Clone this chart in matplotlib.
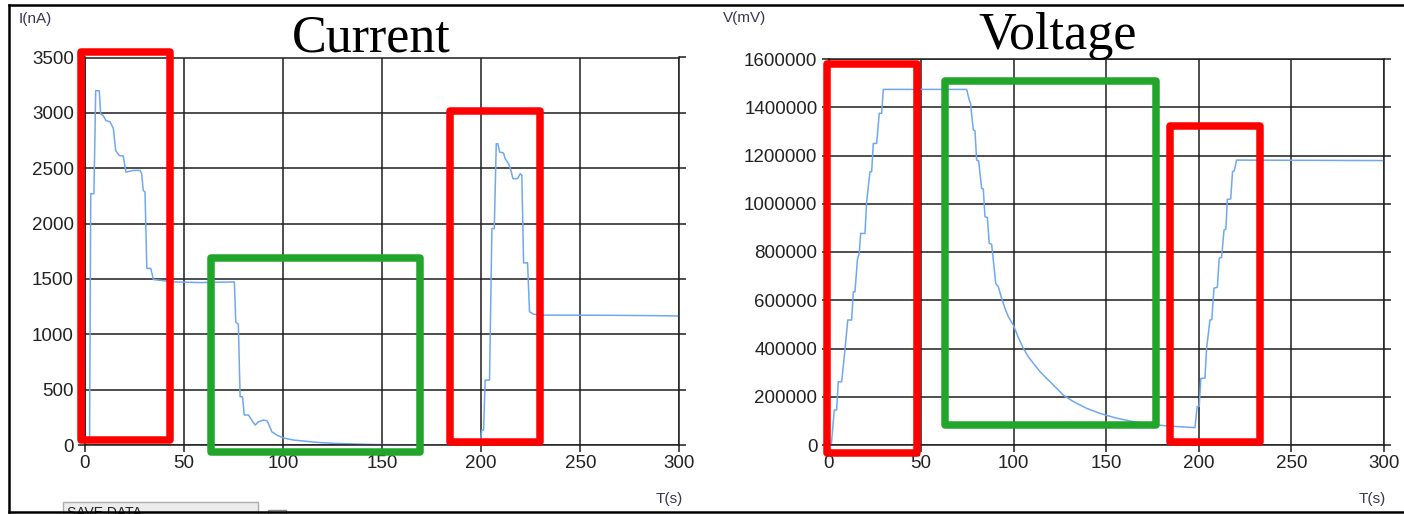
import matplotlib
matplotlib.use("Agg")
import matplotlib.pyplot as plt
from matplotlib.patches import Rectangle
from matplotlib.lines import Line2D

# ---------------- data ----------------
cur_t = [2.3, 2.9, 4.5, 5.4, 7.2, 7.9, 9.2, 10.6, 12.6, 14.3, 15.5, 17.2, 19.3, 20.7, 24.4, 27.8, 28.6, 29.4, 30.3, 31.2,
         33.2, 34.5, 44.4, 58.0, 75.4,
         76.1, 77.4, 78.3, 79.5, 80.4, 82.5, 84.2, 85.9, 87.6, 90.1, 91.8, 92.6, 94.3, 96.8, 99.3, 101.8, 105.2, 108.6,
         117.0, 125.4, 142.2, 150.6, 170.0, 199.3,
         200.3, 201.2, 202.0, 204.2, 205.4, 206.6, 207.6, 208.4, 209.3, 211.3, 212.1, 213.8, 215.0, 216.0, 218.4, 219.7,
         220.5, 221.4, 223.4, 224.4, 226.4, 229.8, 260, 290, 300]
cur_i = [0, 2270, 2270, 3200, 3200, 2990, 2975, 2930, 2920, 2860, 2660, 2615, 2610, 2465, 2480, 2480, 2450, 2300, 2285, 1595,
         1595, 1495, 1473, 1467, 1473,
         1112, 1091, 436, 436, 271, 271, 225, 180, 210, 225, 219, 195, 120, 90, 69, 57, 45, 39,
         24, 15, 6, 3, 1, 1,
         135, 135, 586, 586, 1955, 1955, 2721, 2721, 2646, 2637, 2586, 2541, 2481, 2406, 2406, 2451,
         2436, 1645, 1645, 1203, 1182, 1173, 1172, 1168, 1165]

vol_t = [1.5, 3.1, 4.4, 5.3, 7.1, 8.9, 10.4, 12.5, 13.4, 14.3, 15.6, 16.6, 17.4, 19.7, 20.6, 22.4, 23.3, 24.2, 26.0, 27.4,
         28.7, 29.6, 74.6,
         76.0, 76.7, 78.2, 79.1, 80.0, 81.1, 82.7, 83.6, 84.5, 85.8, 86.8, 88.1, 89.0, 90.3, 91.7, 93.5, 95.3, 97.1, 99.8,
         102.5, 105.2, 107.9, 110.6, 114.2, 117.8, 121.4, 126.8, 132.2, 139.4, 146.6, 155.6, 164.6, 173.6, 182.6, 197.9,
         199.1, 200.2, 201.1, 203.3, 204.2, 206.0, 207.0, 208.2, 210.0, 211.0, 212.3, 213.6, 214.6, 215.4, 217.2, 218.2,
         219.1, 220.4, 260, 300]
vol_v = [0, 145000, 145000, 262000, 262000, 394000, 518000, 518000, 635000, 635000, 767000, 795000, 877000, 877000,
         1008000, 1133000, 1133000, 1250000, 1250000, 1375000, 1375000, 1474000, 1474000,
         1430000, 1416000, 1306000, 1303000, 1181000, 1178000, 1064000, 1061000, 946000, 943000, 836000, 832000, 767000,
         670000, 656000, 608000, 567000, 532000, 497000, 446000, 401000, 366000, 339000, 304000, 276000, 249000, 207000,
         180000, 152000, 131000, 111000, 97000, 87000, 79000, 72000,
         159000, 160000, 276000, 277000, 401000, 518000, 520000, 650000, 654000, 774000, 778000, 891000, 894000,
         1018000, 1020000, 1133000, 1136000, 1181000, 1180000, 1179000]

x_ticks = [0, 50, 100, 150, 200, 250, 300]
cur_ticks = [0, 500, 1000, 1500, 2000, 2500, 3000, 3500]
vol_ticks = [0, 200000, 400000, 600000, 800000, 1000000, 1200000, 1400000, 1600000]

titles = ["Current", "Voltage"]
y_labels = ["I(nA)", "V(mV)"]
x_label = "T(s)"

# ---------------- figure ----------------
W, H = 1404, 514
fig = plt.figure(figsize=(W / 100, H / 100), dpi=100)
fig.patch.set_facecolor("white")

GRID = "#1e1e1e"
LINE = "#6fa8f0"
SANS = "Liberation Sans"


def ax_px(x0, y0, x1, y1):
    return fig.add_axes([x0 / W, 1 - y1 / H, (x1 - x0) / W, (y1 - y0) / H])


def style(ax, yticks, ymax):
    ax.set_xlim(0, 300)
    ax.set_ylim(0, ymax)
    ax.set_xticks(x_ticks)
    ax.set_xticklabels([str(v) for v in x_ticks])
    ax.set_yticks(yticks)
    ax.set_yticklabels([str(v) for v in yticks])
    ax.grid(True, color=GRID, lw=1.1)
    ax.set_axisbelow(True)
    for s in ax.spines.values():
        s.set_color(GRID)
        s.set_linewidth(1.1)
    ax.tick_params(axis="both", direction="out", length=5, width=1.1, color=GRID,
                   labelsize=13.5, labelcolor="#222222")
    ax.tick_params(axis="y", right=True, labelright=False, pad=3)
    ax.tick_params(axis="x", pad=2.5)
    for lab in ax.get_xticklabels() + ax.get_yticklabels():
        lab.set_fontfamily(SANS)


ax1 = ax_px(85, 57.5, 679.3, 445)
ax1.plot(cur_t, cur_i, color=LINE, lw=1.1)
style(ax1, cur_ticks, 3500)

ax2 = ax_px(828.5, 59, 1384, 445)
ax2.plot(vol_t, vol_v, color=LINE, lw=1.1)
style(ax2, vol_ticks, 1600000)


def ftext(x, y, s, **kw):
    fig.text(x / W, 1 - y / H, s, **kw)


# titles
ftext(371, 51, titles[0], family="Liberation Serif", fontsize=37.5, ha="center", va="baseline", color="black")
ftext(1058, 48.5, titles[1], family="Liberation Serif", fontsize=37.5, ha="center", va="baseline", color="black")

# axis labels
ftext(19, 19, y_labels[0], family=SANS, fontsize=11, ha="left", va="center", color="#3a3550")
ftext(723, 18, y_labels[1], family=SANS, fontsize=11, ha="left", va="center", color="#3a3550")
ftext(683, 499.5, x_label, family=SANS, fontsize=11, ha="right", va="center", color="#3a3550")
ftext(1386, 499.5, x_label, family=SANS, fontsize=11, ha="right", va="center", color="#3a3550")


# highlight boxes (figure pixel coordinates of stroke centres)
def px_rect(x0, y0, x1, y1, color):
    r = Rectangle((x0 / W, 1 - y1 / H), (x1 - x0) / W, (y1 - y0) / H, transform=fig.transFigure,
                  fill=False, ec=color, lw=5.4, joinstyle="round", zorder=10)
    fig.add_artist(r)


RED = "#ff0000"
GREEN = "#21a52a"
px_rect(80.5, 51.5, 169.5, 439.5, RED)
px_rect(210.5, 257.5, 419.5, 451.5, GREEN)
px_rect(449.5, 110.5, 539.5, 441.5, RED)
px_rect(826.5, 63.5, 916.5, 452.5, RED)
px_rect(944.5, 80.5, 1155.5, 424.5, GREEN)
px_rect(1169.5, 125.5, 1259.5, 441.5, RED)

# SAVE DATA button and checkbox (cut off at the bottom)
btn = Rectangle((63 / W, 1 - 520 / H), (258 - 63) / W, (520 - 502) / H, transform=fig.transFigure,
                fc="#ececec", ec="#adadad", lw=1.0, zorder=3)
fig.add_artist(btn)
ftext(67, 506, "SAVE DATA", family=SANS, fontsize=10, ha="left", va="top", color="#222222")
chk = Rectangle((268 / W, 1 - 520 / H), (286 - 268) / W, (520 - 510) / H, transform=fig.transFigure,
                fc="#f4f4f4", ec="#8a8a8a", lw=1.0, zorder=3)
fig.add_artist(chk)


# outer frame of the screenshot
def fline(xs, ys, lw):
    fig.add_artist(Line2D([x / W for x in xs], [1 - y / H for y in ys], transform=fig.transFigure,
                          color="black", lw=lw, zorder=11))


fline([8.5, W], [4.5, 4.5], 1.8)
fline([8.5, 8.5], [4.5, 511.5], 1.8)
fline([8.5, W], [511.5, 511.5], 1.8)

fig.savefig("out.png", dpi=100, facecolor="white")
